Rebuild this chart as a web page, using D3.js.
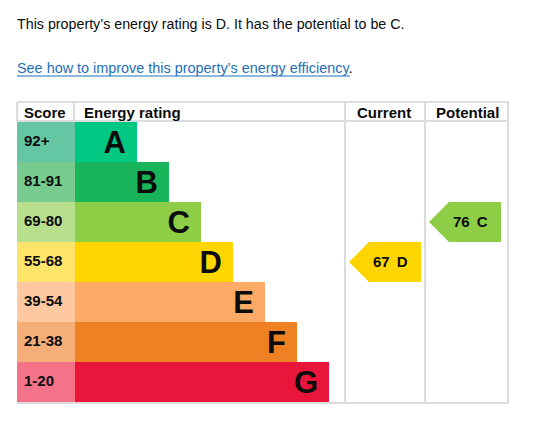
<!DOCTYPE html>
<html><head><meta charset="utf-8">
<script src="https://cdn.jsdelivr.net/npm/d3@7"></script>
<style>html,body{margin:0;padding:0;background:#fff;}svg{display:block;}</style>
</head><body>
<script>
const bands = ["A","B","C","D","E","F","G"];
const scoreRanges = ["92+","81-91","69-80","55-68","39-54","21-38","1-20"];
const barColors = ["#00c781","#19b459","#8dce46","#ffd500","#fcaa65","#ef8023","#e9153b"];
const scoreColors = ["#64c6a3","#78cb8f","#b8e08c","#ffe46c","#fec9a0","#f5ae78","#f47388"];
const headers = ["Score","Energy rating","Current","Potential"];
const current = {score: 67, band: "D"};
const potential = {score: 76, band: "C"};
const summaryText = "This property\u2019s energy rating is D. It has the potential to be C.";
const linkText = "See how to improve this property\u2019s energy efficiency";

const W = 533, H = 425;
const svg = d3.select("body").append("svg").attr("width", W).attr("height", H);
svg.append("rect").attr("width", W).attr("height", H).attr("fill", "#fff");

const left = 17, right = 508, scoreRight = 75, ratingRight = 345, currentRight = 425;
const headTop = 102, rowsTop = 122, rowsBottom = 402;

const y = d3.scaleBand().domain(bands).range([rowsTop, rowsBottom]).padding(0);
const barEnd = d3.scaleLinear().domain([0, bands.length - 1]).range([137, 329]);

// Summary text
const t1 = svg.append("text").attr("x", left).attr("y", 29)
  .attr("font-family", "Liberation Sans, Arial, sans-serif").attr("font-size", 16)
  .attr("fill", "#0b0c0c").text(summaryText);
let w1 = t1.node().getComputedTextLength();
t1.attr("font-size", 16 * 388 / w1);

const t2 = svg.append("text").attr("x", left).attr("y", 73)
  .attr("font-family", "Liberation Sans, Arial, sans-serif").attr("font-size", 16);
const lk = t2.append("tspan").attr("fill", "#1d70b8").text(linkText);
let w2 = lk.node().getComputedTextLength();
const fs2 = 16 * 333 / w2;
t2.attr("font-size", fs2);
t2.append("tspan").attr("fill", "#0b0c0c").text(".");
svg.append("line").attr("x1", left).attr("x2", left + 333).attr("y1", 76).attr("y2", 76)
  .attr("stroke", "#1d70b8").attr("stroke-width", 1);

// Rows
const rows = svg.selectAll("g.row").data(bands).join("g").attr("class", "row");
rows.append("rect").attr("x", left).attr("y", d => y(d)).attr("width", scoreRight - left)
  .attr("height", y.bandwidth()).attr("fill", (d, i) => scoreColors[i]);
rows.append("rect").attr("x", scoreRight).attr("y", d => y(d))
  .attr("width", (d, i) => barEnd(i) - scoreRight)
  .attr("height", y.bandwidth()).attr("fill", (d, i) => barColors[i]);
rows.append("text").attr("x", 24).attr("y", d => y(d) + 24)
  .attr("font-family", "Liberation Sans, Arial, sans-serif").attr("font-weight", "bold")
  .attr("font-size", 15).attr("fill", "#0b0c0c").text((d, i) => scoreRanges[i]);
rows.append("text").attr("x", (d, i) => barEnd(i) - 11).attr("y", d => y(d) + 31)
  .attr("text-anchor", "end")
  .attr("font-family", "Liberation Sans, Arial, sans-serif").attr("font-weight", "bold")
  .attr("font-size", 31).attr("fill", "#0b0c0c").text(d => d);

// Grid lines
const gc = "#dcdcdc";
const g = svg.append("g").attr("stroke", gc).attr("stroke-width", 2);
g.append("line").attr("x1", left).attr("x2", right + 1).attr("y1", headTop).attr("y2", headTop);
g.append("line").attr("x1", left).attr("x2", right + 1).attr("y1", rowsTop - 1).attr("y2", rowsTop - 1);
g.append("line").attr("x1", left).attr("x2", right + 1).attr("y1", rowsBottom + 1).attr("y2", rowsBottom + 1);
g.append("line").attr("x1", left).attr("x2", left).attr("y1", headTop).attr("y2", rowsTop);
g.append("line").attr("x1", scoreRight - 1).attr("x2", scoreRight - 1).attr("y1", headTop).attr("y2", rowsTop);
[ratingRight, currentRight, right].forEach(x =>
  g.append("line").attr("x1", x).attr("x2", x).attr("y1", headTop).attr("y2", rowsBottom + 2));

// Headers
const hx = [24, 84, 357, 436];
svg.selectAll("text.h").data(headers).join("text").attr("class", "h")
  .attr("x", (d, i) => hx[i]).attr("y", 118)
  .attr("font-family", "Liberation Sans, Arial, sans-serif").attr("font-weight", "bold")
  .attr("font-size", 15).attr("fill", "#0b0c0c").text(d => d);

// Arrows
function arrow(info, x0, x1) {
  const i = bands.indexOf(info.band);
  const top = y(info.band), h = y.bandwidth(), mid = top + h / 2;
  const tip = 20;
  svg.append("path")
    .attr("d", `M${x0},${mid} L${x0 + tip},${top} L${x1},${top} L${x1},${top + h} L${x0 + tip},${top + h} Z`)
    .attr("fill", barColors[i]);
  const t = svg.append("text").attr("x", x0 + tip + 4).attr("y", mid + 5)
    .attr("font-family", "Liberation Sans, Arial, sans-serif").attr("font-weight", "bold")
    .attr("font-size", 15).attr("fill", "#0b0c0c");
  t.append("tspan").text(info.score);
  t.append("tspan").attr("dx", 7).text(info.band);
}
arrow(current, 349, 421);
arrow(potential, 429, 501);
</script>
</body></html>
